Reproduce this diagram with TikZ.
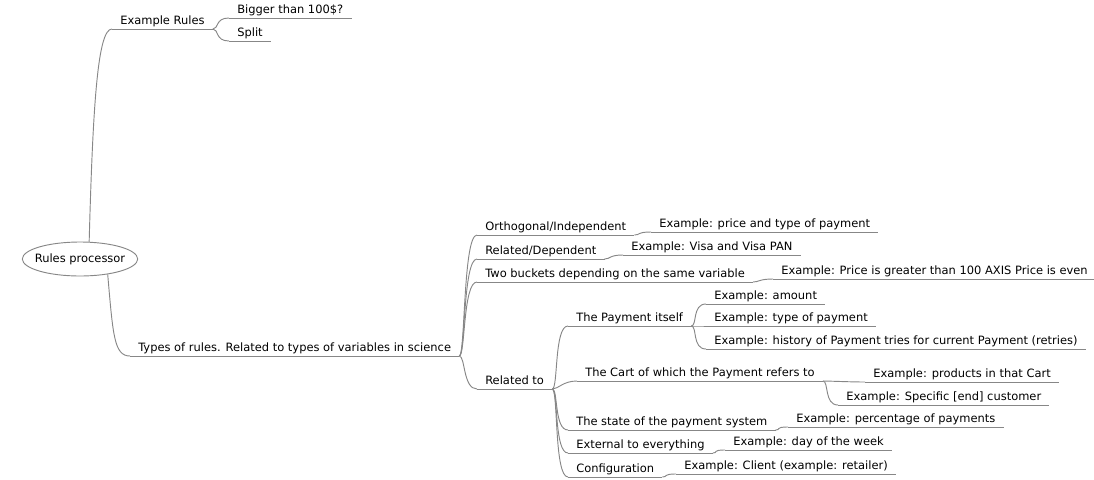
\documentclass[tikz,border=0pt]{standalone}
\usepackage{fontspec}
\setmainfont{DejaVu Sans}
\usetikzlibrary{shapes}
\definecolor{linegray}{RGB}{135,135,135}
\tikzstyle{branch} = [draw = linegray, line width = 0.7pt]
\tikzstyle{topic} = [anchor = south west, inner xsep = 6pt, inner ysep = 3pt, text depth = 0pt, font = \fontsize{8.6}{10}\selectfont,
    append after command = {(\tikzlastnode.south west) edge [branch] (\tikzlastnode.south east)}]
\tikzstyle{hub} = [ellipse, draw = linegray, line width = 0.7pt, fill = white, minimum height = 25.5pt, inner xsep = -3.3pt, inner ysep = 0pt, font = \fontsize{8.6}{10}\selectfont]

\begin{document}
\begin{tikzpicture}[x = 0.75pt, y = -0.75pt]
        \useasboundingbox (0,0) rectangle (1094,479);
        \node (rp) [hub] at (80,259) {Rules processor};
        % upper branch
        \node (er)    [topic] at (112,29)  {Example Rules};
        \node (big)   [topic] at (229,18)  {Bigger than 100\$?};
        \node (split) [topic] at (229,41)  {Split};
        % lower branch
        \node (types)  [topic] at (130,356) {Types of rules. Related to types of variables in science};
        \node (ortho)  [topic] at (477,235) {Orthogonal/Independent};
        \node (exortho)[topic] at (651,232) {Example: price and type of payment};
        \node (dep)    [topic] at (477,259) {Related/Dependent};
        \node (exdep)  [topic] at (623,255) {Example: Visa and Visa PAN};
        \node (bkt)    [topic] at (477,282) {Two buckets depending on the same variable};
        \node (exbkt)  [topic] at (773,279) {Example: Price is greater than 100 AXIS Price is even};
        \node (relto)  [topic] at (477,389) {Related to};
        \node (pay)    [topic] at (568,326) {The Payment itself};
        \node (examt)  [topic] at (706,304) {Example: amount};
        \node (extype) [topic] at (706,326) {Example: type of payment};
        \node (exhist) [topic] at (706,349) {Example: history of Payment tries for current Payment (retries)};
        \node (cart)   [topic] at (577,381) {The Cart of which the Payment refers to};
        \node (exprod) [topic] at (865,382) {Example: products in that Cart};
        \node (excust) [topic] at (838,405) {Example: Specific [end] customer};
        \node (state)  [topic] at (568,430) {The state of the payment system};
        \node (expct)  [topic] at (788,427) {Example: percentage of payments};
        \node (ext)    [topic] at (568,453) {External to everything};
        \node (exday)  [topic] at (725,450) {Example: day of the week};
        \node (conf)   [topic] at (568,477) {Configuration};
        \node (excli)  [topic] at (676,474) {Example: Client (example: retailer)};
        % connectors
        \draw [branch] (rp.62) .. controls (93,100) and (98,29) .. (er.south west);
        \draw [branch] (rp.-29) .. controls (113,335) and (114,356) .. (types.south west);
        \draw [branch] (er.south east) .. controls +(6,0) and +(-14,0) .. (big.south west);
        \draw [branch] (er.south east) .. controls +(6,0) and +(-14,0) .. (split.south west);
        \draw [branch] (types.south east) .. controls +(6,0) and +(-14,0) .. (ortho.south west);
        \draw [branch] (types.south east) .. controls +(6,0) and +(-14,0) .. (dep.south west);
        \draw [branch] (types.south east) .. controls +(6,0) and +(-14,0) .. (bkt.south west);
        \draw [branch] (types.south east) .. controls +(6,0) and +(-14,0) .. (relto.south west);
        \draw [branch] (ortho.south east) .. controls +(6,0) and +(-14,0) .. (exortho.south west);
        \draw [branch] (dep.south east) .. controls +(6,0) and +(-14,0) .. (exdep.south west);
        \draw [branch] (bkt.south east) .. controls +(6,0) and +(-14,0) .. (exbkt.south west);
        \draw [branch] (relto.south east) .. controls +(6,0) and +(-14,0) .. (pay.south west);
        \draw [branch] (relto.south east) .. controls +(6,0) and +(-14,0) .. (cart.south west);
        \draw [branch] (relto.south east) .. controls +(6,0) and +(-14,0) .. (state.south west);
        \draw [branch] (relto.south east) .. controls +(6,0) and +(-14,0) .. (ext.south west);
        \draw [branch] (relto.south east) .. controls +(6,0) and +(-14,0) .. (conf.south west);
        \draw [branch] (pay.south east) .. controls +(6,0) and +(-14,0) .. (examt.south west);
        \draw [branch] (pay.south east) .. controls +(6,0) and +(-14,0) .. (extype.south west);
        \draw [branch] (pay.south east) .. controls +(6,0) and +(-14,0) .. (exhist.south west);
        \draw [branch] (cart.south east) .. controls +(6,0) and +(-14,0) .. (exprod.south west);
        \draw [branch] (cart.south east) .. controls +(6,0) and +(-14,0) .. (excust.south west);
        \draw [branch] (state.south east) .. controls +(6,0) and +(-14,0) .. (expct.south west);
        \draw [branch] (ext.south east) .. controls +(6,0) and +(-14,0) .. (exday.south west);
        \draw [branch] (conf.south east) .. controls +(6,0) and +(-14,0) .. (excli.south west);
    \end{tikzpicture}
\end{document}
